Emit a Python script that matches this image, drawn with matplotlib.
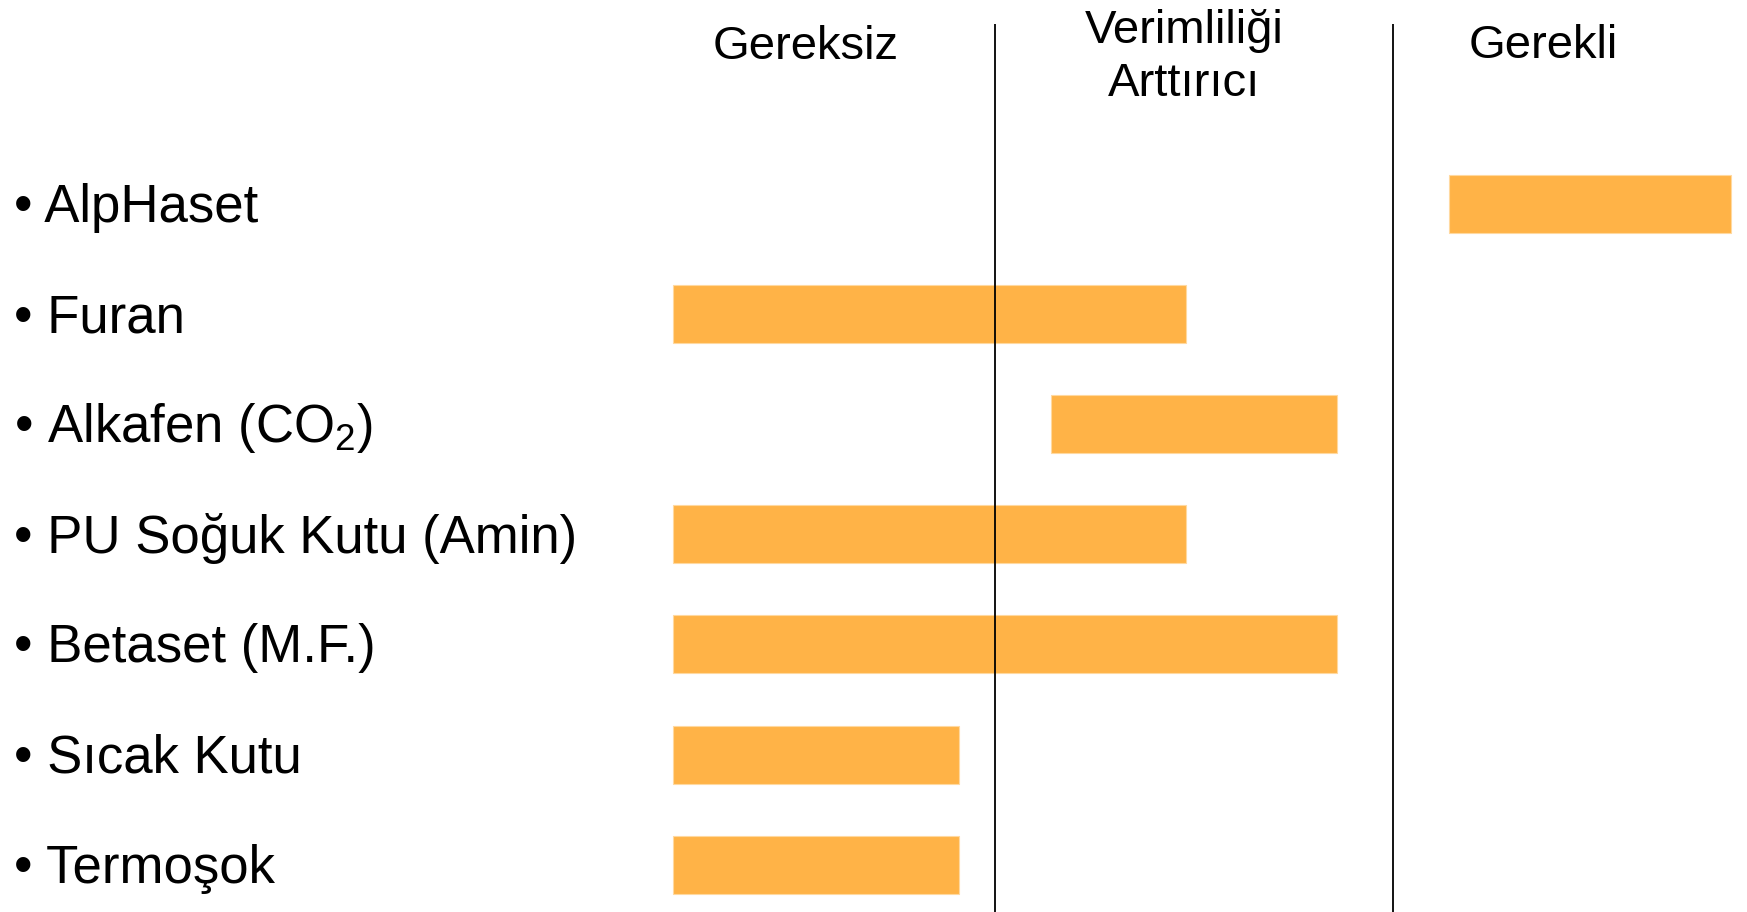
import matplotlib
matplotlib.use('Agg')
import matplotlib.pyplot as plt

plt.rcParams['font.family'] = ['Liberation Sans', 'DejaVu Sans']
plt.rcParams['mathtext.fontset'] = 'custom'
plt.rcParams['mathtext.rm'] = 'Liberation Sans'

# categories (top to bottom) and bar spans in column units
# 0-1 = Gereksiz, 1-2 = Verimliliği Arttırıcı, 2-3 = Gerekli
items = ['AlpHaset', 'Furan', r'Alkafen (CO$\mathregular{_2}$)',
         'PU Soğuk Kutu (Amin)', 'Betaset (M.F.)', 'Sıcak Kutu', 'Termoşok']
span_start = [2.14, 0.19, 1.14, 0.19, 0.19, 0.19, 0.19]
span_end = [2.85, 1.48, 1.86, 1.48, 1.86, 0.91, 0.91]
columns = ['Gereksiz', 'Verimliliği\nArttırıcı', 'Gerekli']
col_bounds = [1, 2]

fig = plt.figure(figsize=(17.47, 9.121), dpi=100)
fig.patch.set_facecolor('white')
ax = fig.add_axes([0, 0, 1, 1])
ax.set_xlim(-1.5, 2.889)
ax.set_ylim(6.43, -1.853)
ax.axis('off')

bar_col = '#FFB347'
ypos = list(range(len(items)))
widths = [e - s for s, e in zip(span_start, span_end)]
ax.barh(ypos, widths, left=span_start, height=0.527, color=bar_col,
        edgecolor='#FFD9A0', linewidth=0.8, zorder=2)

ax.vlines(col_bounds, -1.635, 6.43, color='black', lw=1.3, zorder=3)

# row labels
for i, name in enumerate(items):
    ax.text(0.008, i + 0.035, '\u2022 ' + name, transform=ax.get_yaxis_transform(),
            fontsize=38, ha='left', va='center', color='black')

# column headers
ax.text(0.525, -1.43, columns[0], fontsize=34, ha='center', va='center')
ax.text(1.475, -1.33, columns[1], fontsize=34, ha='center', va='center',
        linespacing=1.25)
ax.text(2.377, -1.435, columns[2], fontsize=34, ha='center', va='center')

plt.savefig('out.png', dpi=100, facecolor='white')
plt.close()
